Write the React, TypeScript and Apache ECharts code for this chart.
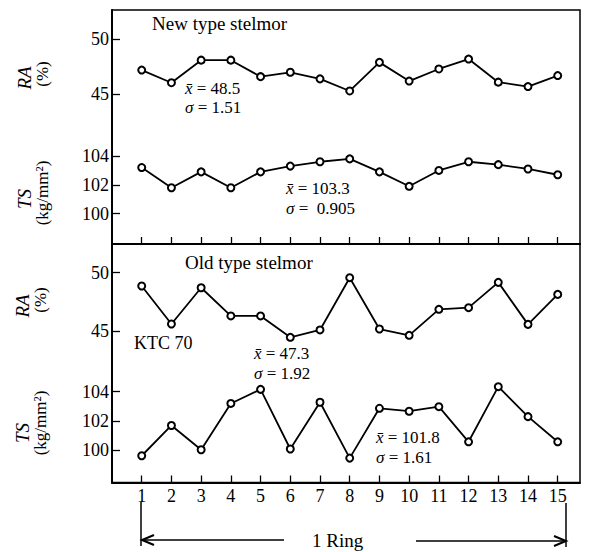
import React, { useEffect, useRef } from 'react';
import * as echarts from 'echarts';

const rings = [1, 2, 3, 4, 5, 6, 7, 8, 9, 10, 11, 12, 13, 14, 15];
const newRA = [47.2, 46.05, 48.1, 48.1, 46.6, 47.0, 46.4, 45.3, 47.9, 46.2, 47.3, 48.2, 46.1, 45.7, 46.7];
const newTS = [103.2, 101.8, 102.9, 101.8, 102.9, 103.3, 103.6, 103.8, 102.9, 101.9, 103.0, 103.6, 103.4, 103.1, 102.7];
const oldRA = [48.86, 45.6, 48.71, 46.29, 46.29, 44.46, 45.09, 49.57, 45.17, 44.63, 46.86, 47.0, 49.17, 45.57, 48.14];
const oldTS = [99.64, 101.7, 100.05, 103.2, 104.16, 100.1, 103.28, 99.48, 102.87, 102.67, 102.98, 100.59, 104.34, 102.3, 100.59];
const raTicks = [45, 50];
const tsTicks = [100, 102, 104];

const FONT = "'Liberation Serif', 'DejaVu Serif', serif";

export default function App() {
  const ref = useRef<HTMLDivElement>(null);
  useEffect(() => {
    document.body.style.margin = '0';
    const chart = echarts.init(ref.current!, null, { renderer: 'svg' });
    const black = '#000';
    const xAxis = (gridIndex: number, showLabels: boolean) => ({
      type: 'value',
      gridIndex,
      min: 0,
      max: 15.75,
      axisLine: { show: true, lineStyle: { color: black, width: 2 } },
      axisTick: { show: true, inside: true, length: 7, customValues: rings, lineStyle: { color: black, width: 1.3 } },
      axisLabel: { show: showLabels, customValues: rings, color: black, fontFamily: FONT, fontSize: 18, margin: 4 },
      splitLine: { show: false },
    });
    const yAxis = (gridIndex: number, min: number, max: number, ticks: number[], showLine: boolean) => ({
      type: 'value',
      gridIndex,
      min,
      max,
      position: 'left',
      axisLine: { show: showLine, lineStyle: { color: black, width: 2 } },
      axisTick: { show: true, inside: true, length: 8, customValues: ticks, lineStyle: { color: black, width: 1.3 } },
      axisLabel: { customValues: ticks, color: black, fontFamily: FONT, fontSize: 18, margin: 3 },
      splitLine: { show: false },
    });
    const line = (xi: number, yi: number, vals: number[]) => ({
      type: 'line',
      xAxisIndex: xi,
      yAxisIndex: yi,
      data: rings.map((r, i) => [r, vals[i]]),
      symbol: 'emptyCircle',
      symbolSize: 7,
      lineStyle: { color: black, width: 1.8 },
      itemStyle: { color: black, borderWidth: 1.5 },
      silent: true,
    });
    const rich = {
      i: { fontStyle: 'italic', fontFamily: FONT, fontSize: 17, fill: black, color: black },
      n: { fontFamily: FONT, fontSize: 17, fill: black, color: black },
    };
    const txt = (x: number, y: number, text: string, extra: any = {}) => ({
      type: 'text',
      x,
      y,
      style: {
        text,
        fontFamily: FONT,
        fontSize: 17,
        fill: black,
        align: 'left',
        verticalAlign: 'middle',
        rich,
        ...extra,
      },
    });
    const vtxt = (x: number, y: number, text: string, extra: any = {}) => ({
      type: 'text',
      x,
      y,
      rotation: Math.PI / 2,
      style: {
        text,
        fontFamily: FONT,
        fontSize: 17,
        fill: black,
        align: 'center',
        verticalAlign: 'middle',
        ...extra,
      },
    });
    const seg = (x1: number, y1: number, x2: number, y2: number) => ({
      type: 'line',
      shape: { x1, y1, x2, y2 },
      style: { stroke: black, lineWidth: 1.5 },
    });
    const head = (pts: number[][]) => ({
      type: 'polyline',
      shape: { points: pts },
      style: { stroke: black, lineWidth: 2, fill: 'none' },
    });

    chart.setOption({
      animation: false,
      backgroundColor: '#fff',
      textStyle: { fontFamily: FONT, color: black },
      grid: [
        { left: 112, right: 11, top: 10, bottom: 308, show: true, borderColor: black, borderWidth: 1.5 },
        { left: 112, right: 11, top: 244, bottom: 69.5, show: true, borderColor: black, borderWidth: 1.5 },
      ],
      xAxis: [xAxis(0, false), xAxis(1, true)],
      yAxis: [
        yAxis(0, 31.39, 52.66, raTicks, true),
        yAxis(0, 97.9, 114.12, tsTicks, false),
        yAxis(1, 32.01, 52.46, raTicks, true),
        yAxis(1, 97.82, 114.05, tsTicks, false),
      ],
      series: [line(0, 0, newRA), line(0, 1, newTS), line(1, 2, oldRA), line(1, 3, oldTS)],
      graphic: [
        txt(152, 23, 'New type stelmor', { fontSize: 19 }),
        txt(185, 88, '{i|x\u0304}{n| = 48.5}'),
        txt(185, 107, '{i|σ}{n| = 1.51}'),
        txt(286, 188, '{i|x\u0304}{n| = 103.3}'),
        txt(286, 208, '{i|σ}{n| =  0.905}'),
        txt(185, 262, 'Old type stelmor', { fontSize: 19 }),
        txt(134, 343, 'KTC 70', { fontSize: 18 }),
        txt(254, 353, '{i|x\u0304}{n| = 47.3}'),
        txt(254, 373, '{i|σ}{n| = 1.92}'),
        txt(376, 437, '{i|x\u0304}{n| = 101.8}'),
        txt(376, 457, '{i|σ}{n| = 1.61}'),
        vtxt(24, 78, 'RA', { fontStyle: 'italic', fontSize: 19 }),
        vtxt(42, 74, '(%)'),
        vtxt(24, 199, 'TS', { fontStyle: 'italic', fontSize: 19 }),
        vtxt(42, 193, '(kg/mm²)'),
        vtxt(22, 306, 'RA', { fontStyle: 'italic', fontSize: 19 }),
        vtxt(40, 300, '(%)'),
        vtxt(22, 433, 'TS', { fontStyle: 'italic', fontSize: 19 }),
        vtxt(40, 423, '(kg/mm²)'),
        seg(141, 502, 141, 546),
        seg(566, 503, 566, 547),
        seg(142, 540, 284, 540),
        seg(416, 541, 566, 541),
        head([[154, 535], [142, 540], [154, 545]]),
        head([[554, 536], [566, 541], [554, 546]]),
        txt(312, 540, '1 Ring', { fontSize: 19 }),
      ],
    });
    return () => chart.dispose();
  }, []);
  return <div ref={ref} style={{ position: 'absolute', left: 0, top: 0, width: 591, height: 552 }} />;
}
